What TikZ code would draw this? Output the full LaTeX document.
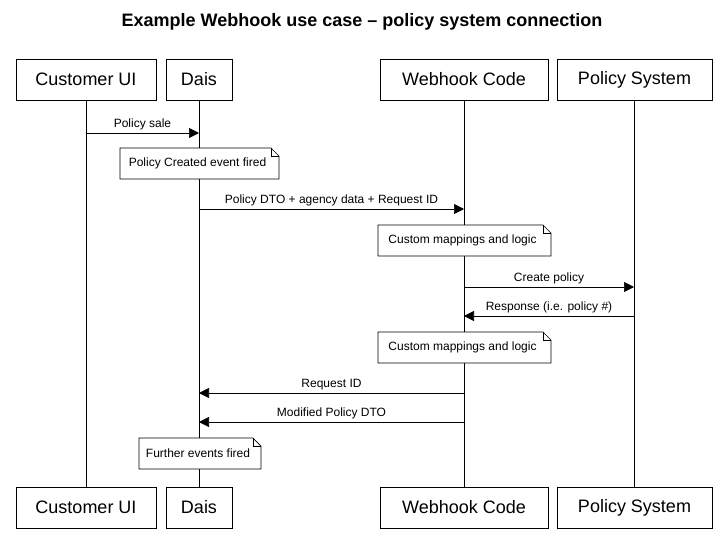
\documentclass[tikz,border=0pt]{standalone}
\usepackage{fontspec}
\setmainfont{Liberation Sans}
\usetikzlibrary{arrows.meta}
\begin{document}
\begin{tikzpicture}[x=1pt,y=-1pt,
 part/.style={draw,line width=0.8pt,minimum height=41pt,inner sep=0pt,font=\fontsize{18}{20}\selectfont},
 life/.style={line width=0.7pt},
 msg/.style={line width=0.7pt,-{Triangle[length=10pt,width=10pt]}},
 lbl/.style={font=\fontsize{12}{14}\selectfont,inner sep=1pt},
 notetxt/.style={font=\fontsize{12}{14}\selectfont}]
\useasboundingbox (0,0) rectangle (725,542);
\node[font=\bfseries\fontsize{18}{20}\selectfont] (title) at (362,22) {Example Webhook use case -- policy system connection};
\foreach \n/\t/\a/\b in {cu/Customer UI/16/156, da/Dais/166/232, wh/Webhook Code/380/548, ps/Policy System/557/712}{
  \node[part,minimum width={\b-\a}] (\n t) at ({(\a+\b)/2},79.5) {\t};
  \node[part,minimum width={\b-\a}] (\n b) at ({(\a+\b)/2},507.5) {\t};
  \draw[life] (\n t.south) -- (\n b.north);
}
\newcommand\mynote[5]{% x1 y1 x2 y2 text
  \draw[line width=0.7pt,fill=white] (#1,#2) -- ({#3-8},#2) -- (#3,{#2+8}) -- (#3,#4) -- (#1,#4) -- cycle;
  \draw[line width=0.7pt] ({#3-8},#2) -- ({#3-8},{#2+8}) -- (#3,{#2+8});
  \node[notetxt] at ({(#1+#3)/2-2},{(#2+#4)/2}) {#5};}
\coordinate (m1a) at (86,133); \coordinate (m1b) at (199,133);
\draw[msg] (m1a) -- (m1b) node[lbl,midway,above=2pt] {Policy sale};
\mynote{120}{148}{279}{179}{Policy Created event fired}
\coordinate (m2a) at (199,209); \coordinate (m2b) at (464,209);
\draw[msg] (m2a) -- (m2b) node[lbl,midway,above=2pt] {Policy DTO + agency data + Request ID};
\mynote{378}{225}{551}{256}{Custom mappings and logic}
\coordinate (m3a) at (464,287); \coordinate (m3b) at (634,287);
\draw[msg] (m3a) -- (m3b) node[lbl,midway,above=2pt] {Create policy};
\coordinate (m4a) at (634,316); \coordinate (m4b) at (464,316);
\draw[msg] (m4a) -- (m4b) node[lbl,midway,above=2pt] {Response (i.e. policy \#)};
\mynote{378}{332}{551}{363}{Custom mappings and logic}
\coordinate (m5a) at (464,393); \coordinate (m5b) at (199,393);
\draw[msg] (m5a) -- (m5b) node[lbl,midway,above=2pt] {Request ID};
\coordinate (m6a) at (464,422); \coordinate (m6b) at (199,422);
\draw[msg] (m6a) -- (m6b) node[lbl,midway,above=2pt] {Modified Policy DTO};
\mynote{139}{438}{261}{469}{Further events fired}
\end{tikzpicture}
\end{document}
